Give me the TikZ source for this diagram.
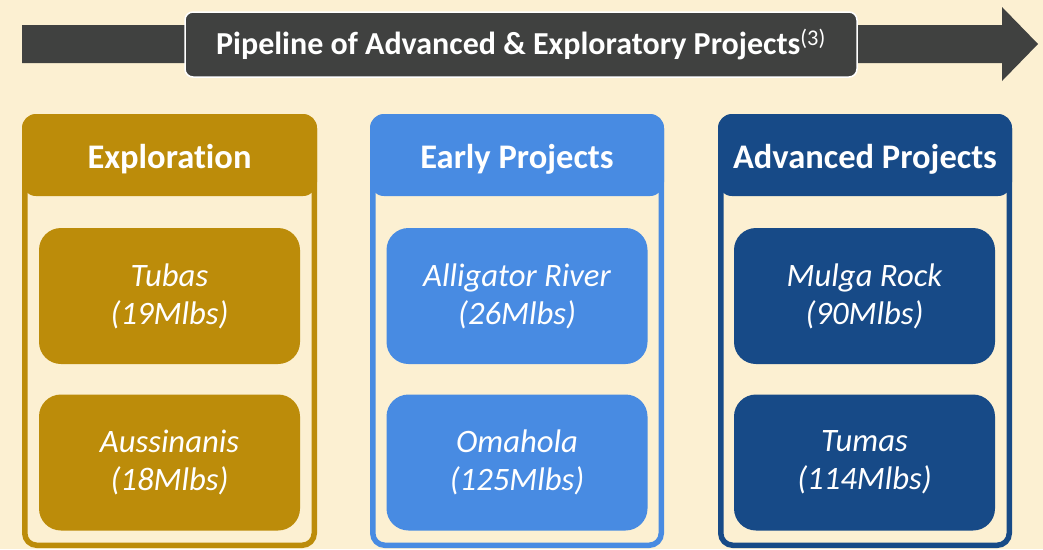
\documentclass[tikz,border=0pt]{standalone}
\usepackage{fontspec}
\setmainfont{Carlito}[Ligatures=CommonOff]
\definecolor{bgc}{HTML}{FCF0D2}
\definecolor{goldc}{HTML}{BC8C0A}
\definecolor{lbluec}{HTML}{488BE2}
\definecolor{dbluec}{HTML}{174A87}
\definecolor{dgrayc}{HTML}{404140}
\tikzset{
  headtxt/.style={text=white, font=\bfseries\fontsize{34.5}{40}\selectfont, anchor=center},
  projbox/.style={rounded corners=22pt, minimum width=261pt, minimum height=136pt, text=white,
    align=center, font=\itshape\fontsize{32.7}{38}\selectfont, inner sep=0pt},
  titlebox/.style={rounded corners=8pt, fill=dgrayc, draw=white, line width=1.5pt,
    minimum width=672pt, minimum height=65pt, text=white, inner sep=0pt,
    font=\bfseries\fontsize{32}{36}\selectfont},
}
\newcommand{\colframe}[3]{% left, right, color
  \fill[#3, rounded corners=14pt] (#1,114) rectangle (#2,196);
  \draw[#3, line width=5.5pt, rounded corners=12pt] (#1+2.75,116.75) rectangle (#2-2.75,545.25);
}
\begin{document}
\begin{tikzpicture}[x=1pt,y=-1pt]
\fill[bgc] (0,0) rectangle (1043,549);
\useasboundingbox (0,0) rectangle (1043,549);
% arrow
\fill[dgrayc] (22,25) -- (1002,25) -- (1002,7) -- (1038,44) -- (1002,81) -- (1002,63) -- (22,63) -- cycle;
\node[titlebox] (title) at (521,44.5) {Pipeline of Advanced \& Exploratory Projects\textsuperscript{\mdseries(3)}};
% columns
\colframe{22}{317}{goldc}
\colframe{370}{664}{lbluec}
\colframe{718}{1012}{dbluec}
\node[headtxt] (h1) at (169.5,159) {Exploration};
\node[headtxt] (h2) at (517,159) {Early Projects};
\node[headtxt] (h3) at (865,159) {Advanced Projects};
\node[projbox, fill=goldc] (p1) at (169.5,296) {Tubas\\(19Mlbs)};
\node[projbox, fill=goldc] (p2) at (169.5,462.5) {Aussinanis\\(18Mlbs)};
\node[projbox, fill=lbluec] (p3) at (517,296) {Alligator River\\(26Mlbs)};
\node[projbox, fill=lbluec] (p4) at (517,462.5) {Omahola\\(125Mlbs)};
\node[projbox, fill=dbluec] (p5) at (864.5,296) {Mulga Rock\\(90Mlbs)};
\node[projbox, fill=dbluec] (p6) at (864.5,462.5) {Tumas\\(114Mlbs)};
\end{tikzpicture}
\end{document}
